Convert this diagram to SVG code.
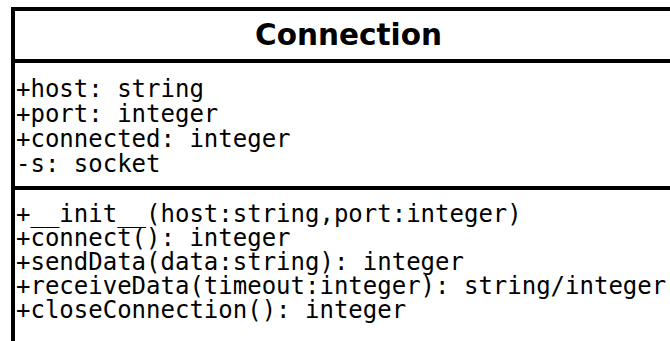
<svg xmlns="http://www.w3.org/2000/svg" width="670" height="341" viewBox="0 0 670 341">
<style>
.t{font-family:"DejaVu Sans",sans-serif;font-weight:bold;font-size:29.5px;fill:#000}
.m{font-family:"DejaVu Sans Mono",monospace;font-size:24px;fill:#000}
.b{stroke:#000;stroke-width:4;fill:none}
</style>
<rect width="670" height="341" fill="#fff"/>
<g id="Connection">
<path class="b" d="M13,345 V9 H675"/>
<line class="b" x1="13" y1="61" x2="675" y2="61"/>
<line class="b" x1="13" y1="188" x2="675" y2="188"/>
<text class="t" x="348.5" y="45" text-anchor="middle">Connection</text>
<text class="m" x="16" y="97">+host: string</text>
<text class="m" x="16" y="122">+port: integer</text>
<text class="m" x="16" y="147">+connected: integer</text>
<text class="m" x="16" y="172">-s: socket</text>
<text class="m" x="16" y="222">+__init__(host:string,port:integer)</text>
<text class="m" x="16" y="246">+connect(): integer</text>
<text class="m" x="16" y="270">+sendData(data:string): integer</text>
<text class="m" x="16" y="294">+receiveData(timeout:integer): string/integer</text>
<text class="m" x="16" y="318">+closeConnection(): integer</text>
</g>
<g id="connectors"></g>
</svg>
